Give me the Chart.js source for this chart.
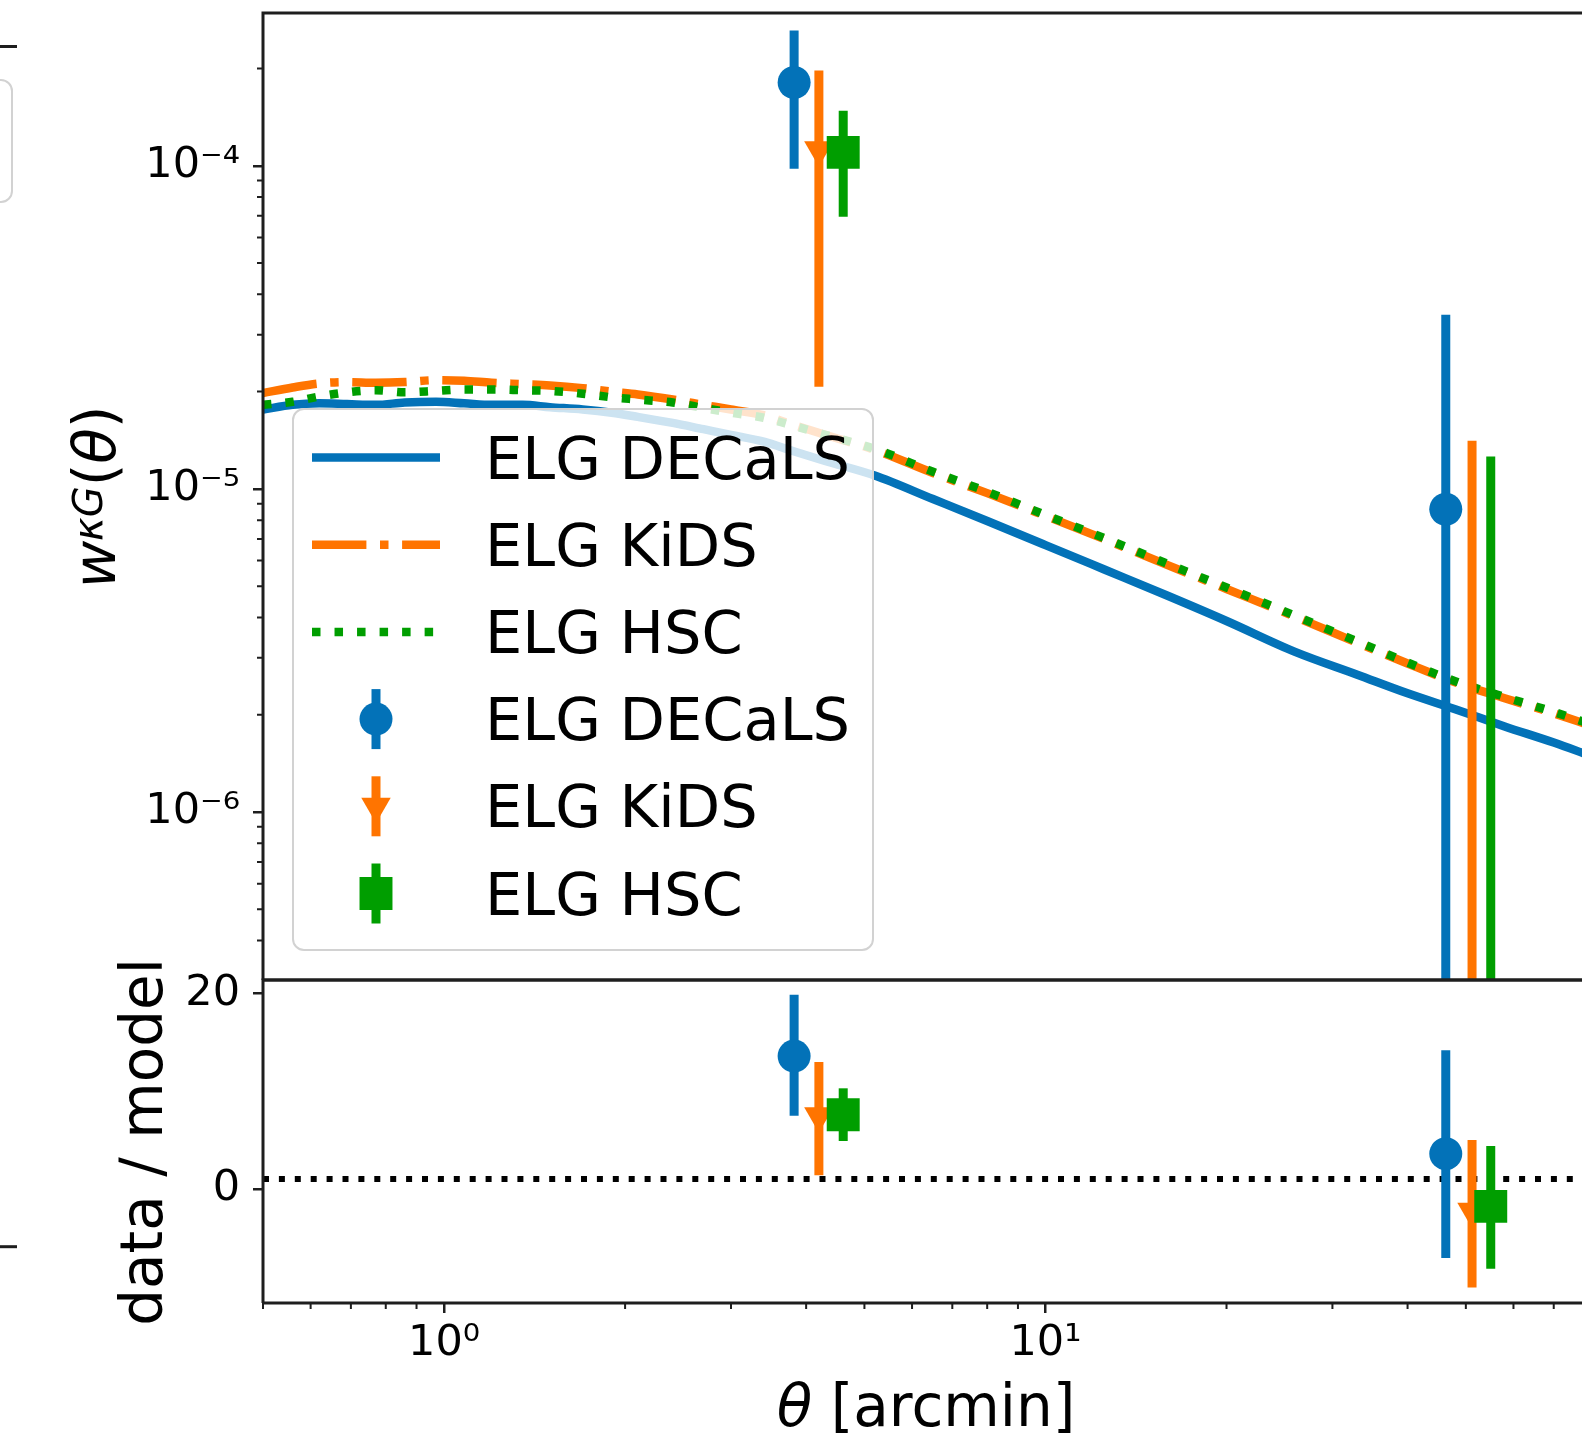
<!DOCTYPE html>
<html>
<head>
<meta charset="utf-8">
<title>w kappa G</title>
<script src="https://cdn.jsdelivr.net/npm/chart.js@4.4.1/dist/chart.umd.min.js"></script>
<style>
  html, body { margin: 0; padding: 0; background: #fff; }
  #fig { position: relative; width: 1582px; height: 1441px; overflow: hidden; background: #fff; }
  #fig canvas { position: absolute; left: 0; }
  #top { top: 0; }
  #bottom { top: 940px; }
</style>
</head>
<body>
<div id="fig">
  <canvas id="top" width="1582" height="982" style="width:1582px;height:982px"></canvas>
  <canvas id="bottom" width="1582" height="501" style="width:1582px;height:501px"></canvas>
</div>
<script>
// --- data ---
const seriesLabels = ['ELG DECaLS', 'ELG KiDS', 'ELG HSC'];

// model curves (theta in arcmin)
const thetaModel = [0.5, 0.56, 0.62, 0.69, 0.77, 0.86, 0.97, 1.08, 1.2, 1.35, 1.5, 1.7, 1.9, 2.1, 2.4, 2.7, 3.0, 3.4, 3.8, 4.3,
                    5.2, 6.5, 8, 10, 12.5, 16, 20, 26, 33, 40, 48, 58, 70, 80];
const modelDecals = [1.76e-5, 1.82e-5, 1.84e-5, 1.83e-5, 1.82e-5, 1.85e-5, 1.86e-5, 1.84e-5, 1.82e-5, 1.82e-5,
                     1.79e-5, 1.76e-5, 1.72e-5, 1.67e-5, 1.60e-5, 1.53e-5, 1.47e-5, 1.40e-5, 1.31e-5, 1.22e-5,
                     1.10e-5, 9.3e-6, 7.95e-6, 6.7e-6, 5.64e-6, 4.66e-6, 3.9e-6, 3.13e-6, 2.66e-6, 2.33e-6,
                     2.08e-6, 1.84e-6, 1.64e-6, 1.50e-6];
const modelKids = [1.98e-5, 2.06e-5, 2.12e-5, 2.14e-5, 2.13e-5, 2.14e-5, 2.17e-5, 2.16e-5, 2.13e-5, 2.11e-5,
                   2.09e-5, 2.05e-5, 2.00e-5, 1.96e-5, 1.89e-5, 1.82e-5, 1.76e-5, 1.69e-5, 1.58e-5, 1.47e-5,
                   1.32e-5, 1.12e-5, 9.7e-6, 8.25e-6, 7.0e-6, 5.8e-6, 4.9e-6, 4.02e-6, 3.34e-6, 2.88e-6,
                   2.52e-6, 2.25e-6, 2.02e-6, 1.86e-6];
const modelHsc = [1.82e-5, 1.86e-5, 1.93e-5, 1.99e-5, 2.02e-5, 1.99e-5, 2.01e-5, 2.03e-5, 2.03e-5, 2.02e-5,
                  2.01e-5, 1.97e-5, 1.92e-5, 1.89e-5, 1.85e-5, 1.78e-5, 1.72e-5, 1.66e-5, 1.57e-5, 1.47e-5,
                  1.33e-5, 1.13e-5, 9.8e-6, 8.3e-6, 7.05e-6, 5.85e-6, 4.95e-6, 4.05e-6, 3.37e-6, 2.9e-6,
                  2.54e-6, 2.27e-6, 2.04e-6, 1.88e-6];

// measurements (value, lower and upper end of the error bar)
const thetaDecals = [3.82, 46.3];
const thetaKids = [4.20, 51.2];
const thetaHsc = [4.61, 55.0];

const wDecals = [1.81e-4, 8.65e-6];
const wDecalsLo = [9.79e-5, -1.4e-5];
const wDecalsHi = [2.62e-4, 3.46e-5];
const wKids = [1.12e-4, -5.0e-6];
const wKidsLo = [2.07e-5, -2.4e-5];
const wKidsHi = [1.97e-4, 1.41e-5];
const wHsc = [1.10e-4, -4.0e-6];
const wHscLo = [6.95e-5, -2.0e-5];
const wHscHi = [1.48e-4, 1.26e-5];

const ratioDecals = [13.6, 3.6];
const ratioDecalsLo = [7.5, -7.1];
const ratioDecalsHi = [19.9, 14.2];
const ratioKids = [7.5, -2.3];
const ratioKidsLo = [1.4, -10.1];
const ratioKidsHi = [13.0, 5.0];
const ratioHsc = [7.6, -1.8];
const ratioHscLo = [4.9, -8.2];
const ratioHscHi = [10.3, 4.4];
const ratioRef = 1;

// axes
const xTicks = [1, 10];
const xTickLabels = ['10⁰', '10¹'];
const wTicks = [1e-6, 1e-5, 1e-4];
const wTickLabels = ['10⁻⁶', '10⁻⁵', '10⁻⁴'];
const ratioTicks = [0, 20];
const ratioTickLabels = ['0', '20'];

const X_MIN = 0.5, X_MAX = 78;
const W_MIN = 3.02e-7, W_MAX = 2.97e-4;
const R_MIN = -11.7, R_MAX = 21.4;

// --- style ---
const COLORS = ['#0372b8', '#ff7400', '#009e00'];
const LW = 8.5;
const DASHES = [[], [6.4 * LW, 1.6 * LW, LW, 1.6 * LW], [LW, 1.65 * LW]];
const MARKERS = [['circle', 16.5], ['triangle', 17], ['rect', 23.3]];
const FONT = '"DejaVu Sans"';
const INK = '#1e1e1e';

function curve(ys, i, order) {
  return {
    type: 'line',
    data: thetaModel.map((x, k) => ({ x, y: ys[k] })),
    borderColor: COLORS[i], borderWidth: LW, borderDash: DASHES[i],
    borderCapStyle: 'butt', borderJoinStyle: 'round',
    cubicInterpolationMode: 'monotone',
    pointRadius: 0, fill: false, clip: 0, order
  };
}

function measured(xs, ys, lo, hi, i, order) {
  return {
    type: 'scatter',
    data: xs.map((x, k) => ({ x, y: ys[k] })),
    errLo: lo, errHi: hi,
    backgroundColor: COLORS[i], borderWidth: 0,
    pointStyle: MARKERS[i][0], pointRadius: MARKERS[i][1],
    pointRotation: MARKERS[i][0] === 'triangle' ? 180 : 0,
    order
  };
}

function toPixel(scale, v) {
  if (scale.type === 'logarithmic' && v <= 0) return scale.bottom + 50;
  return scale.getPixelForValue(v);
}

// error bars go under their own markers
const errorBars = {
  id: 'errorBars',
  beforeDatasetDraw(chart, args) {
    const ds = chart.data.datasets[args.index];
    if (!ds.errLo) return;
    const { ctx, chartArea: a, scales: { x, y } } = chart;
    ctx.save();
    ctx.beginPath();
    ctx.rect(a.left, a.top, a.right - a.left, a.bottom - a.top);
    ctx.clip();
    ctx.strokeStyle = ds.backgroundColor;
    ctx.lineWidth = 9;
    ctx.lineCap = 'butt';
    ds.data.forEach((p, k) => {
      const px = x.getPixelForValue(p.x);
      ctx.beginPath();
      ctx.moveTo(px, toPixel(y, ds.errLo[k]));
      ctx.lineTo(px, toPixel(y, ds.errHi[k]));
      ctx.stroke();
    });
    ctx.restore();
  }
};

function roundRectPath(ctx, x, y, w, h, r) {
  ctx.beginPath();
  ctx.moveTo(x + r, y);
  ctx.arcTo(x + w, y, x + w, y + h, r);
  ctx.arcTo(x + w, y + h, x, y + h, r);
  ctx.arcTo(x, y + h, x, y, r);
  ctx.arcTo(x, y, x + w, y, r);
  ctx.closePath();
}

function drawMarker(ctx, style, x, y, r) {
  ctx.beginPath();
  if (style === 'circle') {
    ctx.arc(x, y, r, 0, Math.PI * 2);
  } else if (style === 'rect') {
    const s = r * Math.SQRT1_2;
    ctx.rect(x - s, y - s, 2 * s, 2 * s);
  } else {
    const w = r * Math.sin(Math.PI / 3);
    ctx.moveTo(x, y + r);
    ctx.lineTo(x - w, y - r / 2);
    ctx.lineTo(x + w, y - r / 2);
  }
  ctx.closePath();
  ctx.fill();
}

function drawSpines(chart) {
  const { ctx, chartArea: a } = chart;
  ctx.save();
  ctx.strokeStyle = INK;
  ctx.lineWidth = 3;
  ctx.beginPath();
  ctx.moveTo(a.left, a.bottom);
  ctx.lineTo(a.left, a.top);
  ctx.lineTo(a.right + 2, a.top);
  ctx.moveTo(a.left, a.bottom);
  ctx.lineTo(a.right + 2, a.bottom);
  ctx.stroke();
  ctx.restore();
}

function minorLogTicks(scale, horizontal, ctx, area) {
  ctx.save();
  ctx.strokeStyle = INK;
  ctx.lineWidth = 2;
  ctx.beginPath();
  for (let e = -8; e <= 2; e++) {
    for (let m = 2; m <= 9; m++) {
      const v = m * Math.pow(10, e);
      if (v < scale.min || v > scale.max) continue;
      const p = scale.getPixelForValue(v);
      if (horizontal) { ctx.moveTo(p, area.bottom); ctx.lineTo(p, area.bottom + 6); }
      else { ctx.moveTo(area.left - 6, p); ctx.lineTo(area.left, p); }
    }
  }
  ctx.stroke();
  ctx.restore();
}

function drawRuns(ctx, runs) {
  let x = 0;
  runs.forEach(r => {
    ctx.font = r.font;
    ctx.fillText(r.text, x, r.dy || 0);
    x += ctx.measureText(r.text).width;
  });
}
function runsWidth(ctx, runs) {
  return runs.reduce((s, r) => { ctx.font = r.font; return s + ctx.measureText(r.text).width; }, 0);
}

function drawLegend(ctx) {
  ctx.save();
  roundRectPath(ctx, 293, 409, 580, 541, 11);
  ctx.fillStyle = 'rgba(255,255,255,0.8)';
  ctx.fill();
  ctx.strokeStyle = '#d2d2d2';
  ctx.lineWidth = 2;
  ctx.stroke();

  const rowY = i => 457.5 + i * 87.2;
  for (let i = 0; i < 3; i++) {
    ctx.strokeStyle = COLORS[i];
    ctx.lineWidth = LW;
    ctx.lineCap = 'butt';
    ctx.setLineDash(DASHES[i]);
    ctx.beginPath();
    ctx.moveTo(312, rowY(i));
    ctx.lineTo(440, rowY(i));
    ctx.stroke();
  }
  ctx.setLineDash([]);
  for (let i = 0; i < 3; i++) {
    const y = rowY(i + 3);
    ctx.strokeStyle = COLORS[i];
    ctx.fillStyle = COLORS[i];
    ctx.lineWidth = 9;
    ctx.beginPath();
    ctx.moveTo(376, y - 30);
    ctx.lineTo(376, y + 30);
    ctx.stroke();
    drawMarker(ctx, MARKERS[i][0], 376, y, MARKERS[i][1]);
  }
  ctx.fillStyle = '#000';
  ctx.font = '59px ' + FONT;
  ctx.textBaseline = 'alphabetic';
  ctx.textAlign = 'left';
  for (let i = 0; i < 6; i++) {
    ctx.fillText(seriesLabels[i % 3], 485, rowY(i) + 21);
  }
  ctx.restore();
}

const topDecor = {
  id: 'topDecor',
  afterDatasetsDraw(chart) {
    const { ctx, chartArea: a } = chart;
    minorLogTicks(chart.scales.y, false, ctx, a);
    drawSpines(chart);
    drawLegend(ctx);

    // y label: w^{kappa G}(theta)
    const runs = [
      { text: 'w', font: 'italic 58px ' + FONT },
      { text: 'κG', font: 'italic 40px ' + FONT, dy: -13 },
      { text: '(', font: '58px ' + FONT },
      { text: 'θ', font: 'italic 58px ' + FONT },
      { text: ')', font: '58px ' + FONT }
    ];
    ctx.save();
    ctx.fillStyle = '#000';
    ctx.textBaseline = 'alphabetic';
    ctx.translate(115, 497 + runsWidth(ctx, runs) / 2);
    ctx.rotate(-Math.PI / 2);
    drawRuns(ctx, runs);
    ctx.restore();

    // bits of the neighbouring panel at the left edge
    ctx.save();
    ctx.strokeStyle = INK;
    ctx.lineWidth = 3;
    ctx.beginPath(); ctx.moveTo(0, 46.5); ctx.lineTo(17, 46.5); ctx.stroke();
    ctx.strokeStyle = '#d2d2d2';
    ctx.lineWidth = 2;
    roundRectPath(ctx, -100, 80, 112, 122, 11);
    ctx.stroke();
    ctx.restore();
  }
};

const bottomDecor = {
  id: 'bottomDecor',
  afterDatasetsDraw(chart) {
    const { ctx, chartArea: a } = chart;
    minorLogTicks(chart.scales.x, true, ctx, a);
    drawSpines(chart);

    ctx.save();
    ctx.fillStyle = '#000';
    ctx.textBaseline = 'alphabetic';
    ctx.font = '58px ' + FONT;
    ctx.save();
    ctx.translate(162, 1142 - 940);
    ctx.rotate(-Math.PI / 2);
    ctx.textAlign = 'center';
    ctx.fillText('data / model', 0, 0);
    ctx.restore();

    const runs = [
      { text: 'θ', font: 'italic 58px ' + FONT },
      { text: ' [arcmin]', font: '58px ' + FONT }
    ];
    ctx.translate(926 - runsWidth(ctx, runs) / 2, 1426 - 940);
    drawRuns(ctx, runs);
    ctx.restore();

    ctx.save();
    ctx.strokeStyle = INK;
    ctx.lineWidth = 3;
    ctx.beginPath(); ctx.moveTo(0, 1246.7 - 940); ctx.lineTo(17, 1246.7 - 940); ctx.stroke();
    ctx.restore();
  }
};

const tickGrid = { drawOnChartArea: false, drawTicks: true, tickLength: 10, tickWidth: 2.5, lineWidth: 2.5, color: INK, tickColor: INK };
const tickFont = { family: FONT, size: 43 };

function common(padding) {
  return {
    animation: false, responsive: false, devicePixelRatio: 1, events: [],
    layout: { padding, autoPadding: false },
    plugins: { legend: { display: false }, tooltip: { enabled: false } }
  };
}

// --- top panel ---
new Chart(document.getElementById('top'), {
  type: 'scatter',
  data: {
    datasets: [
      curve(modelDecals, 0, 12),
      curve(modelKids, 1, 11),
      curve(modelHsc, 2, 10),
      measured(thetaDecals, wDecals, wDecalsLo, wDecalsHi, 0, 3),
      measured(thetaKids, wKids, wKidsLo, wKidsHi, 1, 2),
      measured(thetaHsc, wHsc, wHscLo, wHscHi, 2, 1)
    ]
  },
  options: Object.assign(common({ top: 13, right: 0, bottom: 2, left: 0 }), {
    scales: {
      x: { type: 'logarithmic', min: X_MIN, max: X_MAX, bounds: 'data', display: false },
      y: {
        type: 'logarithmic', min: W_MIN, max: W_MAX, bounds: 'data', position: 'left',
        afterBuildTicks: s => { s.ticks = wTicks.map(v => ({ value: v })); },
        afterFit: s => { s.width = 263; s.paddingTop = 0; s.paddingBottom = 0; },
        border: { display: false },
        grid: tickGrid,
        ticks: { callback: (v, i) => wTickLabels[i], padding: 13, autoSkip: false, font: tickFont, color: '#000' }
      }
    }
  }),
  plugins: [errorBars, topDecor]
});

// --- ratio panel ---
new Chart(document.getElementById('bottom'), {
  type: 'scatter',
  data: {
    datasets: [
      {
        type: 'line',
        data: [{ x: X_MIN, y: ratioRef }, { x: X_MAX, y: ratioRef }],
        borderColor: '#000', borderWidth: 6, borderDash: [6, 9.9], borderCapStyle: 'butt',
        pointRadius: 0, fill: false, clip: 0, order: 10
      },
      measured(thetaDecals, ratioDecals, ratioDecalsLo, ratioDecalsHi, 0, 3),
      measured(thetaKids, ratioKids, ratioKidsLo, ratioKidsHi, 1, 2),
      measured(thetaHsc, ratioHsc, ratioHscLo, ratioHscHi, 2, 1)
    ]
  },
  options: Object.assign(common({ top: 40, right: 0, bottom: 0, left: 0 }), {
    scales: {
      x: {
        type: 'logarithmic', min: X_MIN, max: X_MAX, bounds: 'data', position: 'bottom',
        afterBuildTicks: s => { s.ticks = xTicks.map(v => ({ value: v })); },
        afterFit: s => { s.height = 138; s.paddingLeft = 0; s.paddingRight = 0; },
        border: { display: false },
        grid: tickGrid,
        ticks: { callback: (v, i) => xTickLabels[i], padding: 5, autoSkip: false, maxRotation: 0, font: tickFont, color: '#000' }
      },
      y: {
        type: 'linear', min: R_MIN, max: R_MAX, bounds: 'data', position: 'left',
        afterBuildTicks: s => { s.ticks = ratioTicks.map(v => ({ value: v })); },
        afterFit: s => { s.width = 263; s.paddingTop = 0; s.paddingBottom = 0; },
        border: { display: false },
        grid: tickGrid,
        ticks: { callback: (v, i) => ratioTickLabels[i], padding: 13, autoSkip: false, font: tickFont, color: '#000' }
      }
    }
  }),
  plugins: [errorBars, bottomDecor]
});
</script>
</body>
</html>
